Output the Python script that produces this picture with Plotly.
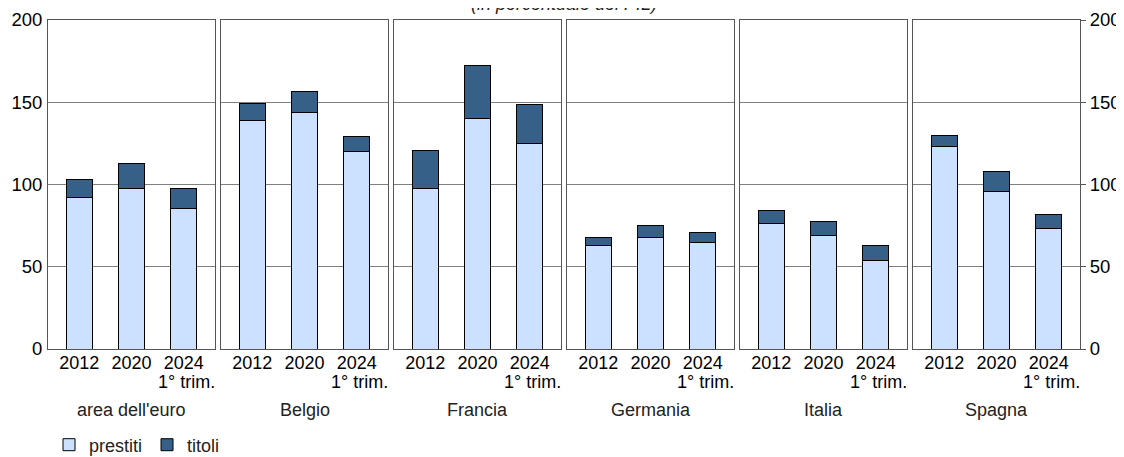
import plotly.graph_objects as go

countries = ["area dell'euro", "Belgio", "Francia", "Germania", "Italia", "Spagna"]
periods = ["2012", "2020", "2024"]
period_note = "1° trim."
prestiti = [
    [92.0, 97.7, 85.7],
    [139.2, 143.5, 119.8],
    [97.4, 140.4, 125.0],
    [62.8, 67.7, 64.8],
    [76.0, 68.7, 54.1],
    [122.8, 96.0, 73.0],
]
titoli = [
    [11.2, 15.2, 11.6],
    [9.8, 13.3, 9.1],
    [23.4, 32.2, 23.5],
    [5.1, 7.1, 6.1],
    [7.9, 9.1, 9.1],
    [7.2, 12.2, 9.0],
]
y_ticks = [0, 50, 100, 150, 200]
title_text = "(in percentuale del PIL)"

C_PRE = "#cce0ff"
C_TIT = "#366088"
FONT = "Liberation Sans, Arial, sans-serif"

# page body has an 8px margin: figure coordinates = screen - 8
W, H = 1124, 457
ml, mt = 40, 12
mr = W - 1072
mb = H - 341
pw = W - ml - mr
ph = H - mt - mb
panel_w, gap = 167, 6

fig = go.Figure()
n = len(countries)
for i in range(n):
    ax = "" if i == 0 else str(i + 1)
    fig.add_trace(go.Bar(
        x=periods, y=prestiti[i], name="prestiti", marker_color=C_PRE,
        marker_line=dict(color="#000000", width=1), width=0.5,
        xaxis="x" + ax, yaxis="y" + ax, showlegend=(i == 0), legendgroup="p"))
    fig.add_trace(go.Bar(
        x=periods, y=titoli[i], name="titoli", marker_color=C_TIT,
        marker_line=dict(color="#000000", width=1), width=0.5,
        xaxis="x" + ax, yaxis="y" + ax, showlegend=(i == 0), legendgroup="t"))
    x0 = i * (panel_w + gap) / pw
    x1 = (i * (panel_w + gap) + panel_w) / pw
    xa = dict(domain=[x0, x1], anchor="y" + ax, type="category",
              categoryorder="array", categoryarray=periods,
              range=[-0.6, 2.6], showline=True, mirror=True,
              linecolor="#555555", linewidth=1, ticks="", showgrid=False,
              tickfont=dict(size=18, color="#000000", family=FONT),
              ticklabelstandoff=-3, automargin=False, fixedrange=True)
    ya = dict(anchor="x" + ax, range=[0, 200], tickvals=y_ticks,
              showline=True, mirror=True, linecolor="#555555", linewidth=1,
              showgrid=True, gridcolor="#808080", gridwidth=1,
              zeroline=False, fixedrange=True, automargin=False,
              tickfont=dict(size=18.5, color="#000000", family=FONT))
    if i == 0:
        ya.update(showticklabels=True, side="left", ticks="", ticklabelstandoff=1)
    elif i == n - 1:
        ya.update(showticklabels=True, side="right", ticks="outside",
                  ticklen=5, tickcolor="#555555", ticklabelstandoff=0)
    else:
        ya.update(showticklabels=False, ticks="")
    fig.layout["xaxis" + ax] = xa
    fig.layout["yaxis" + ax] = ya
    fig.add_annotation(text=period_note, xref="x" + ax,
                       x=periods.index("2024"), xshift=3,
                       yref="paper", y=-33 / ph, yanchor="middle",
                       showarrow=False,
                       font=dict(size=18, color="#000000", family=FONT))
    fig.add_annotation(text=countries[i], xref="x" + ax + " domain", x=0.5,
                       yref="paper", y=-(402 - 341) / ph,
                       yanchor="middle", showarrow=False,
                       font=dict(size=18, color="#222222", family=FONT))

fig.add_annotation(text="<i>" + title_text + "</i>", xref="paper", x=0.5,
                   yref="paper", y=1 + (12 + 4) / ph, yanchor="middle",
                   showarrow=False, font=dict(size=18, color="#222222", family=FONT))

fig.update_layout(
    width=W, height=H, barmode="stack",
    margin=dict(l=ml, r=mr, t=mt, b=mb, autoexpand=False),
    paper_bgcolor="white", plot_bgcolor="white",
    font=dict(family=FONT, color="#222222"),
    legend=dict(orientation="h", xref="container", x=41 / W, xanchor="left",
                yref="container", y=1 - 437 / H, yanchor="middle",
                font=dict(size=18, color="#222222", family=FONT),
                itemwidth=30, traceorder="normal", bgcolor="rgba(0,0,0,0)"),
    bargap=0.5,
)

fig.write_html("out.html")
